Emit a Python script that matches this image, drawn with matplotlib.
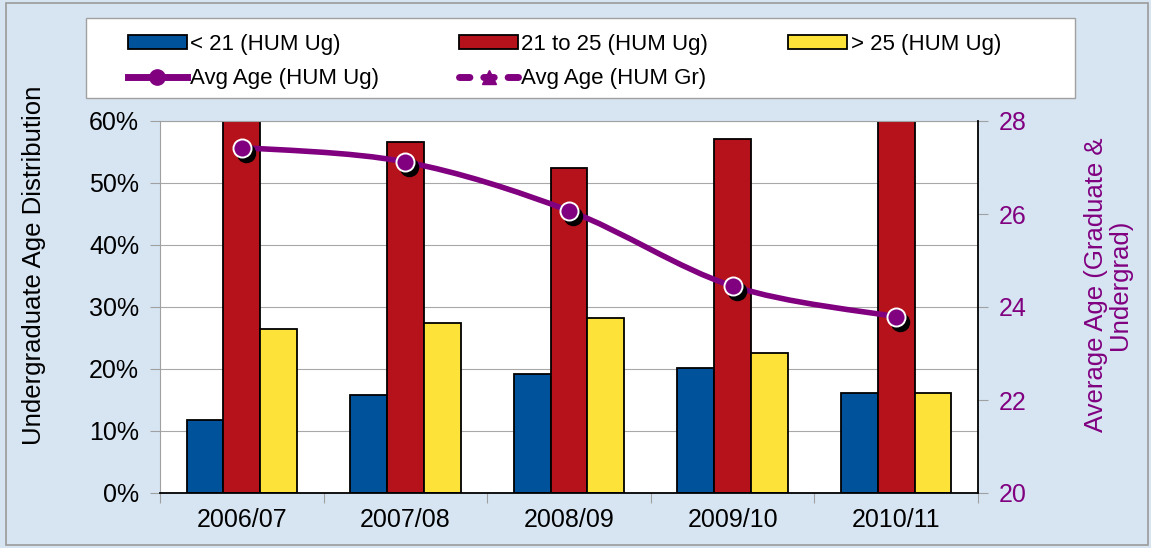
import numpy as np
import matplotlib
matplotlib.use('Agg')
import matplotlib.pyplot as plt
from matplotlib.path import Path
from matplotlib.patches import PathPatch, Patch, Rectangle
from matplotlib.lines import Line2D
from matplotlib.transforms import offset_copy
from matplotlib.ticker import PercentFormatter

# Data
years = ['2006/07', '2007/08', '2008/09', '2009/10', '2010/11']
under21 = [11.8, 15.8, 19.2, 20.1, 16.2]      # % of HUM undergrads
age21to25 = [61.7, 56.6, 52.5, 57.1, 67.7]
over25 = [26.5, 27.4, 28.2, 22.6, 16.1]
avg_age_ug = [27.43, 27.12, 26.07, 24.45, 23.79]

blue = '#00529b'
red = '#b5121b'
yellow = '#fde23a'
purple = '#800080'

plt.rcParams['font.family'] = ['Liberation Sans', 'DejaVu Sans']

W, H = 1151, 548
fig = plt.figure(figsize=(W / 100, H / 100), dpi=100)
fig.patch.set_facecolor('#d7e5f3')
# outer border and legend box
fig.patches.append(Rectangle((6 / W, 3 / H), 1142 / W, 542 / H, transform=fig.transFigure,
                             fill=False, edgecolor='#9a9a9a', lw=1.2))
fig.patches.append(Rectangle((86 / W, 1 - 98 / H), 989 / W, 80 / H, transform=fig.transFigure,
                             facecolor='white', edgecolor='#a0a0a0', lw=1.0))

ax = fig.add_axes([160 / W, 1 - 493 / H, 818 / W, 372 / H])
ax.set_facecolor('white')

# bars
x = np.arange(len(years))
w = 0.225
ax.bar(x - w, under21, w, color=blue, edgecolor='black', linewidth=1.3, zorder=2)
ax.bar(x, age21to25, w, color=red, edgecolor='black', linewidth=1.3, zorder=2)
ax.bar(x + w, over25, w, color=yellow, edgecolor='black', linewidth=1.3, zorder=2)

ax.set_xlim(-0.5, len(years) - 0.5)
ax.set_ylim(0, 60)
ax.set_yticks(range(0, 61, 10))
ax.yaxis.set_major_formatter(PercentFormatter(decimals=0))
ax.yaxis.grid(True, color='#a8a8a8', lw=0.8)
ax.set_axisbelow(True)
ax.tick_params(axis='y', labelsize=18, length=7, color='#a0a0a0', pad=8)

ax.set_xticks(np.arange(-0.5, len(years), 1.0))
ax.set_xticklabels([])
ax.set_xticks(x, minor=True)
ax.set_xticklabels(years, minor=True)
ax.tick_params(axis='x', which='major', length=7, color='#a0a0a0')
ax.tick_params(axis='x', which='minor', length=0, labelsize=18, pad=11)

for s in ['left', 'top']:
    ax.spines[s].set_color('#a0a0a0')
ax.spines['bottom'].set_color('black')
ax.spines['bottom'].set_linewidth(1.3)
ax.spines['right'].set_visible(False)

fig.text(34 / W, 1 - 265 / H, 'Undergraduate Age Distribution', fontsize=18.5,
         rotation=90, ha='center', va='center')

# secondary axis with smoothed average age line
ax2 = ax.twinx()
ax2.set_ylim(20, 28)
ax2.set_yticks(range(20, 29, 2))
ax2.tick_params(axis='y', labelsize=18, labelcolor=purple, length=7, color='#a0a0a0', pad=8)
for s in ['left', 'top', 'bottom']:
    ax2.spines[s].set_visible(False)
ax2.spines['right'].set_color('black')
ax2.spines['right'].set_linewidth(1.3)

fig.text(1108 / W, 1 - 285 / H, 'Average Age (Graduate &\nUndergrad)', fontsize=18.5,
         color=purple, rotation=90, ha='center', va='center', multialignment='center',
         linespacing=0.95)

# Catmull-Rom style bezier through the points (Excel "smoothed line")
pts = np.column_stack([x, avg_age_ug]).astype(float)
ext = np.vstack([pts[0], pts, pts[-1]])
verts = [tuple(pts[0])]
codes = [Path.MOVETO]
for i in range(len(pts) - 1):
    p0, p1, p2, p3 = ext[i], ext[i + 1], ext[i + 2], ext[i + 3]
    c1 = p1 + (p2 - p0) / 6
    c2 = p2 - (p3 - p1) / 6
    verts += [tuple(c1), tuple(c2), tuple(p2)]
    codes += [Path.CURVE4] * 3
ax2.add_patch(PathPatch(Path(verts, codes), fill=False, edgecolor=purple, lw=4.0,
                        capstyle='round', zorder=3))

shadow = offset_copy(ax2.transData, fig=fig, x=4, y=-5, units='dots')
ax2.plot(x, avg_age_ug, 'o', ms=13, color='black', transform=shadow, zorder=4)
ax2.plot(x, avg_age_ug, 'o', ms=13, markerfacecolor=purple, markeredgecolor='white',
         markeredgewidth=1.4, zorder=5)

# legend (frame drawn above)
h_a = Patch(facecolor=blue, edgecolor='black', lw=1.3)
h_b = Patch(facecolor=red, edgecolor='black', lw=1.3)
h_c = Patch(facecolor=yellow, edgecolor='black', lw=1.3)
h_d = Line2D([], [], color=purple, lw=5, marker='o', ms=11, markerfacecolor=purple,
             markeredgecolor=purple)
h_e = Line2D([], [], color=purple, lw=5, ls=(0, (1.5, 2.0)), dash_capstyle='round',
             marker='^', ms=10, markerfacecolor=purple, markeredgecolor=purple)
leg = fig.legend(handles=[h_a, h_d, h_b, h_e, h_c],
                 labels=['< 21 (HUM Ug)', 'Avg Age (HUM Ug)', '21 to 25 (HUM Ug)',
                         'Avg Age (HUM Gr)', '> 25 (HUM Ug)'],
                 ncol=3, loc='upper left', bbox_to_anchor=(128 / W, 1 - 34 / H),
                 fontsize=16, frameon=False, handlelength=2.65, handleheight=0.55,
                 handletextpad=0.15, labelspacing=0.6, columnspacing=3.6,
                 borderaxespad=0, borderpad=0)

fig.savefig('out.png', dpi=100, facecolor=fig.get_facecolor())
